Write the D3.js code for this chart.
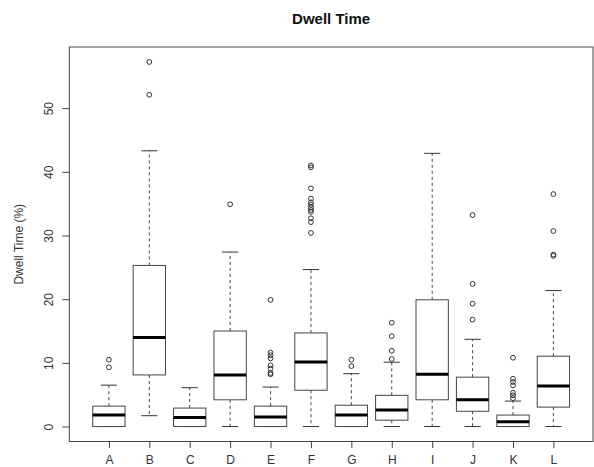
<!DOCTYPE html>
<html>
<head>
<meta charset="utf-8">
<script src="https://cdn.jsdelivr.net/npm/d3@7/dist/d3.min.js"></script>
<style>
  body { margin: 0; background: #fff; }
  svg { display: block; font-family: "Liberation Sans", Arial, sans-serif; }
</style>
</head>
<body>
<div class="chart"></div>
<script>
var categories = ['A', 'B', 'C', 'D', 'E', 'F', 'G', 'H', 'I', 'J', 'K', 'L'];
var whiskerLow = [0, 1.7, 0, 0, 0, 0, 0, 0, 0, 0, 0, 0];
var q1 = [0, 8.1, 0, 4.2, 0, 5.7, 0, 1.0, 4.2, 2.4, 0, 3.05];
var medians = [1.8, 14.0, 1.4, 8.1, 1.5, 10.15, 1.8, 2.6, 8.2, 4.2, 0.75, 6.35];
var q3 = [3.2, 25.3, 2.9, 15.0, 3.2, 14.7, 3.35, 4.9, 19.9, 7.75, 1.8, 11.05];
var whiskerHigh = [6.5, 43.3, 6.1, 27.4, 6.2, 24.65, 8.3, 10.1, 42.9, 13.7, 4.0, 21.35];
var outliers = [
    [9.3, 10.5],
    [52.1, 57.25],
    [],
    [34.9],
    [8.2, 8.4, 9.1, 9.6, 10.7, 11.2, 11.6, 19.9],
    [30.4, 32.1, 32.7, 33.7, 34.0, 34.4, 34.8, 35.2, 35.8, 37.4, 40.7, 41.0],
    [9.5, 10.5],
    [10.6, 11.9, 14.2, 16.3],
    [],
    [16.8, 19.3, 22.4, 33.2],
    [4.45, 4.9, 5.3, 6.45, 7.0, 7.5, 10.8],
    [26.8, 27.0, 30.7, 36.5]
];
var yTicks = [0, 10, 20, 30, 40, 50];

var width = 594, height = 467;
var frame = {left: 69.3, right: 593, top: 47, bottom: 441.5};

var svg = d3.select('.chart')
    .append('svg')
    .attr('width', width)
    .attr('height', height);

var x = d3.scalePoint()
    .domain(categories)
    .range([frame.left, frame.right])
    .padding(0.98);

var y = d3.scaleLinear()
    .domain([-2.35, 59.6])
    .range([frame.bottom, frame.top]);

var step = x.step();
var boxW = step * 0.8;
var capW = step * 0.4;

// title
svg.append('text')
    .attr('x', (frame.left + frame.right) / 2)
    .attr('y', 24)
    .attr('text-anchor', 'middle')
    .style('font-size', '15px')
    .style('font-weight', 'bold')
    .style('fill', '#111')
    .text('Dwell Time');

// y axis
var yAxis = svg.append('g')
    .attr('transform', 'translate(' + frame.left + ',0)')
    .call(d3.axisLeft(y).tickValues(yTicks).tickSize(7).tickFormat(function(d) { return d }));
yAxis.select('.domain').remove();
yAxis.selectAll('.tick line').attr('stroke', '#444');
yAxis.selectAll('.tick text')
    .attr('x', 0)
    .attr('y', -16.5)
    .attr('dy', 0)
    .attr('transform', 'rotate(-90)')
    .attr('text-anchor', 'middle')
    .style('font-size', '12px')
    .style('font-family', '"Liberation Sans", Arial, sans-serif')
    .style('fill', '#333');

svg.append('text')
    .attr('transform', 'translate(22.5,' + ((frame.top + frame.bottom) / 2) + ') rotate(-90)')
    .attr('text-anchor', 'middle')
    .style('font-size', '12px')
    .style('fill', '#333')
    .text('Dwell Time (%)');

// x axis
var xAxis = svg.append('g')
    .attr('transform', 'translate(0,' + frame.bottom + ')')
    .call(d3.axisBottom(x).tickSize(6.5).tickPadding(7.5));
xAxis.select('.domain').remove();
xAxis.selectAll('.tick line').attr('stroke', '#444');
xAxis.selectAll('.tick text')
    .style('font-size', '12px')
    .style('font-family', '"Liberation Sans", Arial, sans-serif')
    .style('fill', '#333');

// frame
svg.append('rect')
    .attr('x', frame.left)
    .attr('y', frame.top)
    .attr('width', frame.right - frame.left)
    .attr('height', frame.bottom - frame.top)
    .attr('fill', 'none')
    .attr('stroke', '#444')
    .attr('stroke-width', 1);

var boxes = svg.selectAll('.box')
    .data(categories)
    .enter()
    .append('g')
    .attr('class', 'box')
    .attr('transform', function(d) { return 'translate(' + x(d) + ',0)' });

// whiskers
boxes.append('line')
    .attr('y1', function(d, i) { return y(q3[i]) })
    .attr('y2', function(d, i) { return y(whiskerHigh[i]) })
    .attr('stroke', '#444')
    .attr('stroke-dasharray', '3,3');
boxes.append('line')
    .attr('y1', function(d, i) { return y(q1[i]) })
    .attr('y2', function(d, i) { return y(whiskerLow[i]) })
    .attr('stroke', '#444')
    .attr('stroke-dasharray', '3,3');

// staples
boxes.append('line')
    .attr('x1', -capW / 2)
    .attr('x2', capW / 2)
    .attr('y1', function(d, i) { return y(whiskerHigh[i]) })
    .attr('y2', function(d, i) { return y(whiskerHigh[i]) })
    .attr('stroke', '#333');
boxes.append('line')
    .attr('x1', -capW / 2)
    .attr('x2', capW / 2)
    .attr('y1', function(d, i) { return y(whiskerLow[i]) })
    .attr('y2', function(d, i) { return y(whiskerLow[i]) })
    .attr('stroke', '#333');

// box
boxes.append('rect')
    .attr('x', -boxW / 2)
    .attr('width', boxW)
    .attr('y', function(d, i) { return y(q3[i]) })
    .attr('height', function(d, i) { return y(q1[i]) - y(q3[i]) })
    .attr('fill', '#fff')
    .attr('stroke', '#444')
    .attr('stroke-width', 1);

// median
boxes.append('line')
    .attr('x1', -boxW / 2)
    .attr('x2', boxW / 2)
    .attr('y1', function(d, i) { return y(medians[i]) })
    .attr('y2', function(d, i) { return y(medians[i]) })
    .attr('stroke', '#000')
    .attr('stroke-width', 3);

// outliers
boxes.selectAll('circle')
    .data(function(d, i) { return outliers[i] })
    .enter()
    .append('circle')
    .attr('cy', function(v) { return y(v) })
    .attr('r', 2.4)
    .attr('fill', 'none')
    .attr('stroke', '#333')
    .attr('stroke-width', 1);
</script>
</body>
</html>
